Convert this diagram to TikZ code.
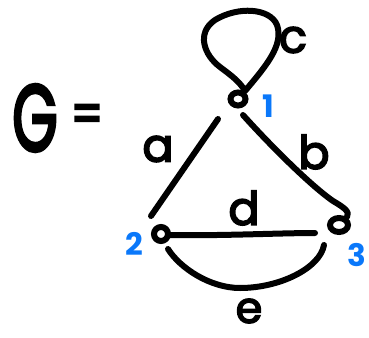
\documentclass[tikz,border=0pt]{standalone}
\usepackage{fontspec}
\setmainfont{Poppins}
\newfontfamily\hand{Poppins}[FakeBold=3.5]
\newfontfamily\handb{Poppins}[FakeBold=4]
\definecolor{penblue}{RGB}{10,120,250}
\begin{document}
\begin{tikzpicture}[x=1pt,y=-1pt,
  pen/.style={line width=6pt,line cap=round,line join=round,black},
  vtx/.style={circle,minimum size=18pt,inner sep=0pt},
  ring/.style={line width=6pt,black},
  lbl/.style={font=\hand\fontsize{46}{46}\selectfont,inner sep=0pt},
  num/.style={font=\fontsize{31}{31}\selectfont\bfseries,text=penblue,inner sep=0pt}]
\useasboundingbox (0,0) rectangle (369,337);
% vertices
\node[vtx] (v1) at (238,99) {};
\node[vtx] (v2) at (161,234) {};
\node[vtx] (v3) at (339,225) {};
\draw[ring] (v1.center) circle[x radius=7.5pt,y radius=6.5pt];
\draw[ring] (v2.center) circle[radius=7pt];
\draw[ring] (v3.center) circle[x radius=9pt,y radius=7pt];
% title
\node[font=\handb\fontsize{94}{94}\selectfont,inner sep=0pt,xscale=0.62] (G) at (35,118) {G};
\node[font=\handb\fontsize{56}{56}\selectfont,inner sep=0pt,xscale=0.8] (eq) at (87,119) {=};
% edge endpoints
\coordinate (a1) at (218,119);
\coordinate (a2) at (151,216);
\coordinate (b1) at (243,115);
\coordinate (b2) at (333,201);
\coordinate (d1) at (169,235);
\coordinate (d2) at (315,233);
\coordinate (e1) at (168,249);
\coordinate (e2) at (324,245);
\coordinate (l1) at (245,91);
\coordinate (v3n) at (347,217);
% edges
\draw[pen] (a1) -- (a2);
\draw[pen] (b1) .. controls (270,145) and (310,185) .. (b2) .. controls (345,208) and (350,212) .. (v3n);
\draw[pen] (d1) .. controls (220,236) and (280,233) .. (d2);
\draw[pen] (e1) .. controls (180,268) and (210,288) .. (240,288) .. controls (280,288) and (320,268) .. (e2);
% loop
\draw[pen] (l1) .. controls (266,66) and (284,45) .. (277,25) .. controls (270,8) and (238,6) .. (215,20) .. controls (196,33) and (204,55) .. (220,67) .. controls (232,76) and (240,82) .. (l1);
% labels
\node[lbl] (lc) at (293,40) {c};
\node[lbl] (la) at (158,149) {a};
\node[lbl] (lb) at (314,152) {b};
\node[lbl] (ld) at (244,208) {d};
\node[lbl,font=\hand\fontsize{43}{43}\selectfont] (le) at (249,311) {e};
\node[num] (n1) at (268,106) {1};
\node[num] (n2) at (134,244) {2};
\node[num] (n3) at (357,255) {3};
\end{tikzpicture}
\end{document}
